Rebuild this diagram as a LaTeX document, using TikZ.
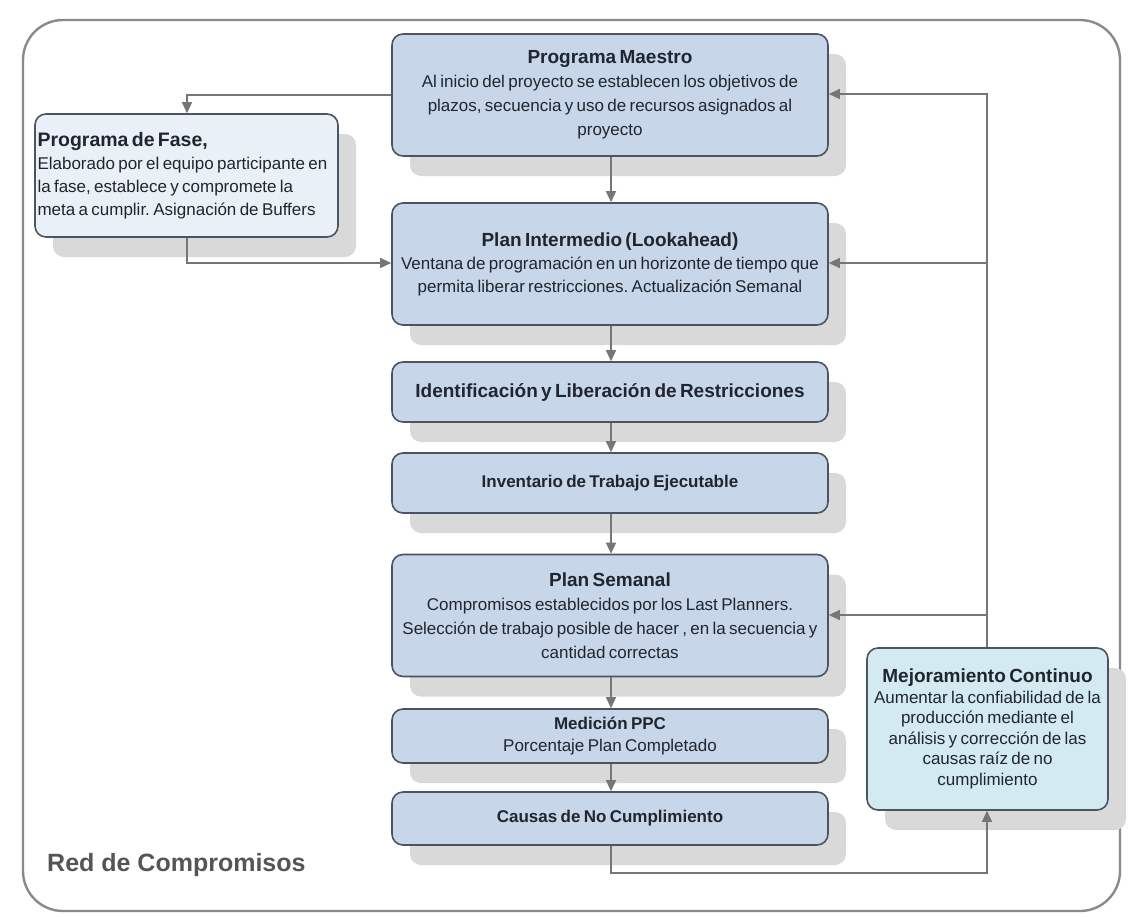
\documentclass[tikz,border=0pt]{standalone}
\usepackage{fontspec}
\setmainfont{Liberation Sans}
\usetikzlibrary{arrows.meta,shadows}
\frenchspacing

\definecolor{framegray}{HTML}{8A8A8A}
\definecolor{linegray}{HTML}{767676}
\definecolor{boxline}{HTML}{4B5561}
\definecolor{boxblue}{HTML}{C7D6E8}
\definecolor{boxpale}{HTML}{EAF0F7}
\definecolor{boxcyan}{HTML}{D3EAF0}
\definecolor{shadowgray}{HTML}{D9D9D9}
\definecolor{textdark}{HTML}{202530}
\definecolor{labelgray}{HTML}{555555}

% title line and body text of a box
\newcommand{\ttl}[2][26]{{\bfseries\fontsize{19}{#1}\selectfont #2\par}}
\newcommand{\bodytext}[2][24]{{\fontsize{17}{#1}\selectfont #2\par}}

\tikzset{
  stepbox/.style={draw=boxline, line width=1.6pt, rounded corners=11pt,
    fill=boxblue, inner sep=0pt, align=center, text=textdark,
    minimum width=436pt, text width=432pt,
    drop shadow={shadow xshift=18pt, shadow yshift=-20pt, fill=shadowgray, opacity=1}},
  flow/.style={draw=linegray, line width=1.4pt, -{Triangle[length=11pt,width=10pt]}},
}

\begin{document}
\begin{tikzpicture}[x=1pt, y=-1pt]
  \useasboundingbox (0,0) rectangle (1132,916);

  % outer frame
  \draw[framegray, line width=2.4pt, rounded corners=40pt] (23,20) rectangle (1120,911);

  % main column
  \node[stepbox, minimum height=122pt] (pm) at (610,95)
    {\ttl[29]{Programa Maestro}\bodytext{Al inicio del proyecto se establecen los objetivos de\\
     plazos, secuencia y uso de recursos asignados al\\ proyecto}};

  \node[stepbox, minimum height=122pt] (pi) at (610,264)
    {\ttl{Plan Intermedio (Lookahead)}\bodytext[23]{Ventana de programación en un horizonte de tiempo que\\
     permita liberar restricciones. Actualización Semanal}};

  \node[stepbox, minimum height=60pt] (ilr) at (610,392)
    {\ttl{Identificación y Liberación de Restricciones}};

  \node[stepbox, minimum height=60pt] (inv) at (610,483)
    {{\bfseries\fontsize{17}{20}\selectfont Inventario de Trabajo Ejecutable\par}};

  \node[stepbox, minimum height=122pt] (ps) at (610,615.5)
    {\ttl[25]{Plan Semanal}\bodytext{Compromisos establecidos por los Last Planners.\\
     Selección de trabajo posible de hacer , en la secuencia y\\ cantidad correctas}};

  \node[stepbox, minimum height=54pt] (ppc) at (610,736)
    {{\bfseries\fontsize{17}{22}\selectfont Medición PPC\par}\bodytext[22]{Porcentaje Plan Completado}};

  \node[stepbox, minimum height=53pt] (cnc) at (610,818.5)
    {{\bfseries\fontsize{17}{22}\selectfont Causas de No Cumplimiento\par}};

  % side boxes
  \node[stepbox, fill=boxpale, minimum width=303pt, text width=298pt, align=left,
        minimum height=123pt] (pf) at (186.5,175.5)
    {{\bfseries\fontsize{19.5}{26}\selectfont Programa de Fase,\par}\bodytext[23]{Elaborado por el equipo participante en\\
     la fase, establece y compromete la\\ meta a cumplir. Asignación de Buffers}};

  \node[stepbox, fill=boxcyan, minimum width=241pt, text width=240pt,
        minimum height=162pt] (mc) at (987.5,729)
    {{\bfseries\fontsize{19}{22}\selectfont Mejoramiento Continuo\par}\bodytext[20.5]{Aumentar la confiabilidad de la\\
     producción mediante el\\ análisis y corrección de las\\ causas raíz de no\\ cumplimiento}};

  % corner points of the connectors
  \coordinate (pmw) at (187,95);
  \coordinate (pfs) at (187,263);
  \coordinate (bot) at (611,873);
  \coordinate (botr) at (987,873);
  \coordinate (fbtop) at (987,94);
  \coordinate (fbpi) at (987,263);
  \coordinate (fbps) at (987,615);

  % forward flow
  \draw[flow] (pm.west |- pmw) -- (pmw) -- (pf.north -| pmw);
  \draw[flow] (pf.south -| pfs) -- (pfs) -- (pi.west |- pfs);
  \draw[flow] (pm.south -| bot) -- (pi.north -| bot);
  \draw[flow] (pi.south -| bot) -- (ilr.north -| bot);
  \draw[flow] (ilr.south -| bot) -- (inv.north -| bot);
  \draw[flow] (inv.south -| bot) -- (ps.north -| bot);
  \draw[flow] (ps.south -| bot) -- (ppc.north -| bot);
  \draw[flow] (ppc.south -| bot) -- (cnc.north -| bot);

  % causes to continuous improvement
  \draw[flow] (cnc.south -| bot) -- (bot) -- (botr) -- (mc.south -| botr);

  % feedback from continuous improvement
  \draw[flow] (mc.north -| fbtop) -- (fbtop) -- (pm.east |- fbtop);
  \draw[flow] (fbpi) -- (pi.east |- fbpi);
  \draw[flow] (fbps) -- (ps.east |- fbps);

  % frame label
  \node[anchor=west, text=labelgray, font=\bfseries\fontsize{25}{30}\selectfont, inner sep=0pt]
    (lbl) at (47,865) {Red de Compromisos};
\end{tikzpicture}
\end{document}
